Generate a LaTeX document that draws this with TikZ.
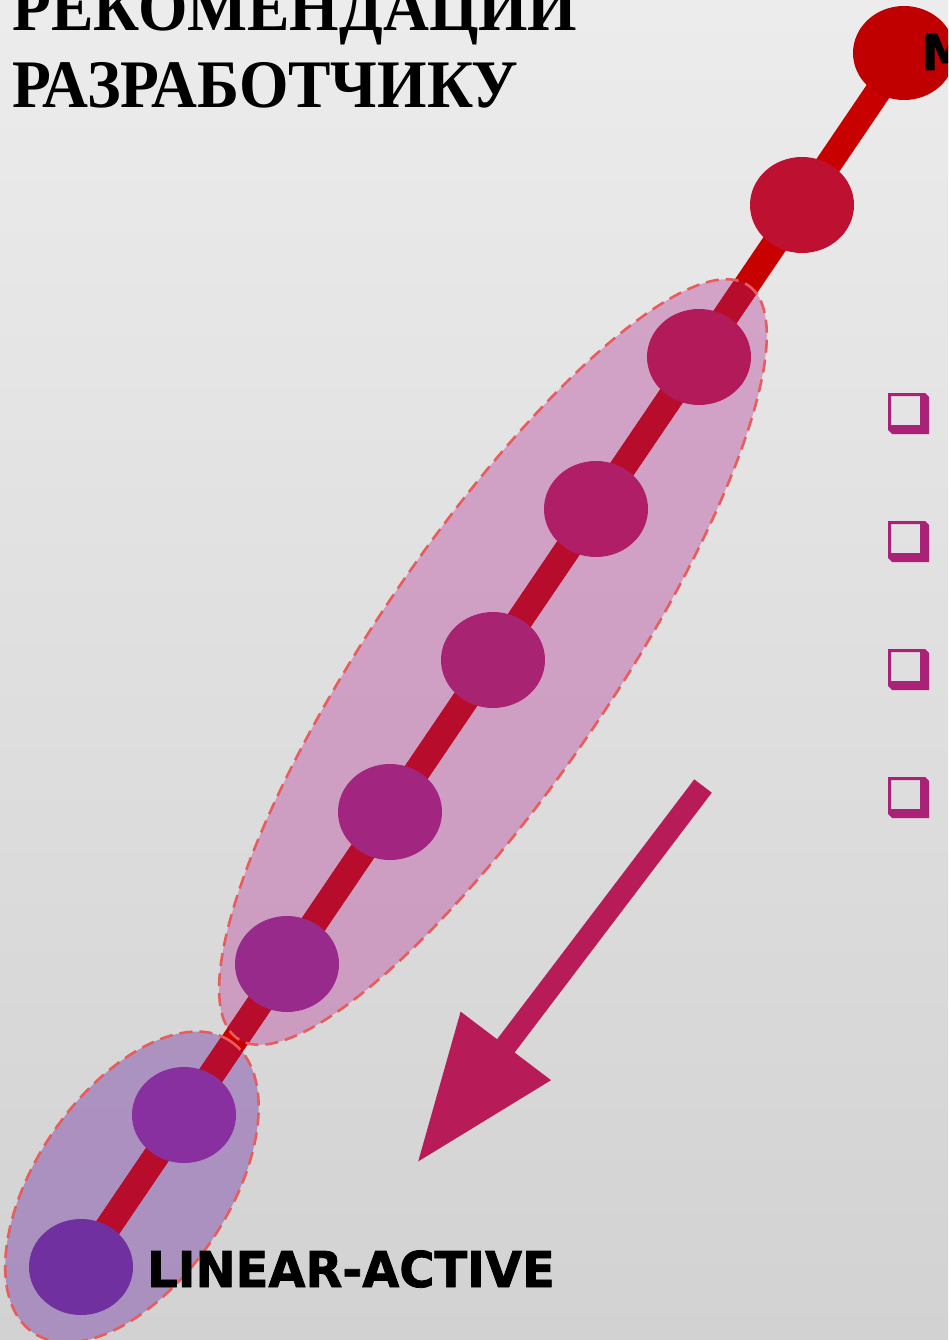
\documentclass[tikz,border=0pt]{standalone}
\usepackage{fontspec}
\setmainfont{Liberation Serif}
\newfontfamily\labelfont{DejaVu Sans}[BoldFeatures={FakeBold=1.5}]
\usetikzlibrary{shapes.geometric,arrows.meta}
\definecolor{bgtop}{HTML}{ECECEC}
\definecolor{bgbot}{HTML}{D2D2D2}
\definecolor{cA}{HTML}{C00000}
\definecolor{cB}{HTML}{BE1030}
\definecolor{cC}{HTML}{B31A5A}
\definecolor{cD}{HTML}{AF1E66}
\definecolor{cE}{HTML}{A92373}
\definecolor{cF}{HTML}{A2267F}
\definecolor{cG}{HTML}{982A8B}
\definecolor{cH}{HTML}{8830A0}
\definecolor{cI}{HTML}{7030A0}
\definecolor{linered}{HTML}{C80000}
\definecolor{linedark}{HTML}{B80C2C}
\definecolor{pinkfill}{HTML}{C36BAE}
\definecolor{lilacfill}{HTML}{8A5AAE}
\definecolor{dashred}{HTML}{E85C5C}
\definecolor{arrowcol}{HTML}{B81C58}
\definecolor{boxcol}{HTML}{AA2278}
\tikzset{
  dot/.style={ellipse, minimum width=104pt, minimum height=96pt, inner sep=0pt, draw=none},
  spine/.style={line width=26pt},
  groupfill/.style={fill opacity=0.55},
  groupline/.style={draw=dashred, line width=2.6pt, dash pattern=on 13pt off 7pt},
  bigarrow/.style={arrowcol, line width=22pt, -{Triangle[length=147pt,width=107pt]}},
  titletext/.style={font=\fontsize{68}{76}\selectfont\bfseries, anchor=base west, inner sep=0pt},
  labeltext/.style={font=\labelfont\fontsize{49.4}{52}\selectfont\bfseries, anchor=base west, inner sep=0pt},
  cbox/.pic={
    \fill[boxcol, even odd rule] (0,0) -- (37,0) -- (41,4) -- (41,41) -- (4,41) -- (0,37) -- cycle
      (3,3) -- (32,3) -- (32,32) -- (3,32) -- cycle;
  }
}
\begin{document}
\begin{tikzpicture}[x=1pt,y=-1pt]
\useasboundingbox (0,0) rectangle (948,1340);
\clip (0,0) rectangle (948,1340);
\shade[top color=bgtop, bottom color=bgbot] (0,0) rectangle (948,1340);

% group centres
\coordinate (g1) at (493,662);
\coordinate (g2) at (132,1187);

% group fills
\fill[pinkfill, groupfill, rotate around={55.9:(g1)}] (g1) ellipse [x radius=455, y radius=120];
\fill[lilacfill, groupfill, rotate around={55.9:(g2)}] (g2) ellipse [x radius=176, y radius=96];

% dots
\node[dot] (c1) at (904,53) {};
\node[dot] (c2) at (802,205) {};
\node[dot] (c3) at (699,357) {};
\node[dot] (c4) at (596,509) {};
\node[dot] (c5) at (493,660) {};
\node[dot] (c6) at (390,812) {};
\node[dot] (c7) at (287,964) {};
\node[dot] (c8) at (184,1115) {};
\node[dot] (c9) at (81,1267) {};

% spine
\draw[spine, linered] (c1.center) -- (c9.center);
\begin{scope}
  \clip[rotate around={55.9:(g1)}] (g1) ellipse [x radius=455, y radius=120];
  \draw[spine, linedark] (c1.center) -- (c9.center);
\end{scope}
\begin{scope}
  \clip[rotate around={55.9:(g2)}] (g2) ellipse [x radius=176, y radius=96];
  \draw[spine, linedark] (c1.center) -- (c9.center);
\end{scope}

% group outlines
\draw[groupline, rotate around={55.9:(g1)}] (g1) ellipse [x radius=455, y radius=120];
\draw[groupline, rotate around={55.9:(g2)}] (g2) ellipse [x radius=176, y radius=96];

% coloured dots on top
\fill[cA] (c1.center) ellipse [x radius=51, y radius=47];
\fill[cB] (c2.center) ellipse [x radius=52, y radius=48];
\fill[cC] (c3.center) ellipse [x radius=52, y radius=48];
\fill[cD] (c4.center) ellipse [x radius=52, y radius=48];
\fill[cE] (c5.center) ellipse [x radius=52, y radius=48];
\fill[cF] (c6.center) ellipse [x radius=52, y radius=48];
\fill[cG] (c7.center) ellipse [x radius=52, y radius=48];
\fill[cH] (c8.center) ellipse [x radius=52, y radius=48];
\fill[cI] (c9.center) ellipse [x radius=52, y radius=48];

% big arrow
\coordinate (arrS) at (703,786);
\coordinate (arrT) at (417,1163);
\draw[bigarrow] (arrS) -- (arrT);

% check boxes
\pic at (888,393) {cbox};
\pic at (888,521) {cbox};
\pic at (888,649) {cbox};
\pic at (888,777) {cbox};

% title
\node[titletext] (t1) at (12,31) {\scalebox{0.935}[1]{РЕКОМЕНДАЦИИ}};
\node[titletext] (t2) at (12,108) {\scalebox{0.935}[1]{РАЗРАБОТЧИКУ}};

% labels
\node[labeltext] (ltop) at (921,70) {\scalebox{0.97}[1]{M}};
\node[labeltext] (lbot) at (147,1287) {\scalebox{0.97}[1]{LINEAR-ACTIVE}};
\end{tikzpicture}
\end{document}
